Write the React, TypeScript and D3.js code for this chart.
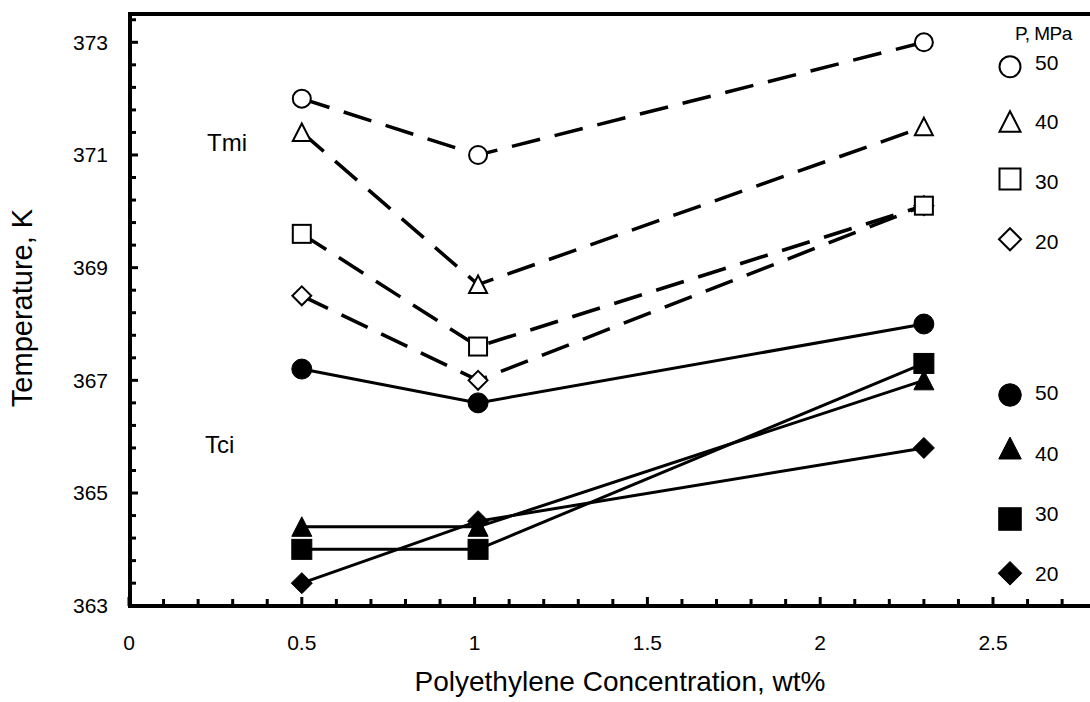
import React from "react";
import * as d3 from "d3";

// ---- data ----
const concentrations = [0.5, 1.01, 2.3];
const pressures = ["50", "40", "30", "20"];
const tmi50 = [372.0, 371.0, 373.0];
const tmi40 = [371.4, 368.7, 371.5];
const tmi30 = [369.6, 367.6, 370.1];
const tmi20 = [368.5, 367.0, 370.1];
const tci50 = [367.2, 366.6, 368.0];
const tci40 = [364.4, 364.4, 367.0];
const tci30 = [364.0, 364.0, 367.3];
const tci20 = [363.4, 364.5, 365.8];
const xTickLabels = ["0", "0.5", "1", "1.5", "2", "2.5"];
const yTickLabels = ["363", "365", "367", "369", "371", "373"];

type Shape = "circle" | "triangle" | "square" | "diamond";
const shapes: Shape[] = ["circle", "triangle", "square", "diamond"];

const FONT = "'Liberation Sans', Arial, Helvetica, sans-serif";

const x = d3.scaleLinear().domain([0, 2.5]).range([129, 993]);
const y = d3.scaleLinear().domain([363, 373]).range([605.7, 42.3]);

function Marker({ shape, cx, cy, s, filled }: { shape: Shape; cx: number; cy: number; s: number; filled: boolean }) {
  const fill = filled ? "#000" : "#fff";
  const sw = filled ? 1 : 2;
  const h = s / 2;
  if (shape === "circle") return <circle cx={cx} cy={cy} r={h} fill={fill} stroke="#000" strokeWidth={sw} />;
  if (shape === "square") return <rect x={cx - h} y={cy - h} width={s} height={s} fill={fill} stroke="#000" strokeWidth={sw} />;
  if (shape === "triangle")
    return (
      <path
        d={`M${cx},${cy - h}L${cx + h},${cy + h * 0.95}L${cx - h},${cy + h * 0.95}Z`}
        fill={fill}
        stroke="#000"
        strokeWidth={sw}
        strokeLinejoin="miter"
      />
    );
  const d = h * 1.05;
  return <path d={`M${cx},${cy - d}L${cx + d},${cy}L${cx},${cy + d}L${cx - d},${cy}Z`} fill={fill} stroke="#000" strokeWidth={sw} />;
}

export default function App() {
  const openSeries = [tmi50, tmi40, tmi30, tmi20];
  const filledSeries = [tci50, tci40, tci30, tci20];
  const line = d3
    .line<number>()
    .x((_, i) => x(concentrations[i]))
    .y((v) => y(v));

  const xMinor = d3.range(0, 28).map((i) => i / 10);
  const yMinor = d3.range(0, 27).map((i) => 363 + i * 0.4);
  const xAxisY = 606;
  const yAxisX = 130;

  const legendOpenY = [66.7, 121.7, 179, 239.3];
  const legendOpenTextY = [63, 121.7, 181.7, 242];
  const legendFilledY = [395, 448.3, 519, 573.3];
  const legendFilledTextY = [393, 453.7, 513.7, 573.3];

  const openOrder = [3, 2, 1, 0];

  return (
    <svg width={1090} height={702} style={{ position: "absolute", left: 0, top: 0, background: "#fff" }} fontFamily={FONT}>
      <rect width={1090} height={702} fill="#fff" />
      {/* frame top line */}
      <line x1={yAxisX - 2} x2={1090} y1={14} y2={14} stroke="#000" strokeWidth={4} />
      {/* y axis */}
      <line x1={yAxisX} x2={yAxisX} y1={12} y2={xAxisY + 2} stroke="#000" strokeWidth={4} />
      {yMinor.map((v, i) => (
        <line key={"ym" + i} x1={yAxisX} x2={yAxisX + (i % 5 === 0 ? 8 : 6)} y1={y(v)} y2={y(v)} stroke="#000" strokeWidth={3} />
      ))}
      {yTickLabels.map((t) => (
        <text key={"yl" + t} x={108} y={y(+t)} dy="0.35em" textAnchor="end" fontSize={21} fill="#000">
          {t}
        </text>
      ))}
      {/* x axis */}
      <line x1={yAxisX - 2} x2={1090} y1={xAxisY} y2={xAxisY} stroke="#000" strokeWidth={4} />
      {xMinor.map((v, i) => (
        <line key={"xm" + i} x1={x(v)} x2={x(v)} y1={xAxisY} y2={xAxisY - (i % 5 === 0 ? 9 : 7)} stroke="#000" strokeWidth={3} />
      ))}
      {xTickLabels.map((t) => (
        <text key={"xl" + t} x={x(+t)} y={650} textAnchor="middle" fontSize={21} fill="#000">
          {t}
        </text>
      ))}
      {/* axis titles */}
      <text x={620} y={691} textAnchor="middle" fontSize={28} fill="#000">
        Polyethylene Concentration, wt%
      </text>
      <text transform="translate(32,308) rotate(-90)" textAnchor="middle" fontSize={29} fill="#000">
        Temperature, K
      </text>
      {/* series labels */}
      <text x={207} y={151} fontSize={24} fill="#000">Tmi</text>
      <text x={205} y={452.7} fontSize={24} fill="#000">Tci</text>

      {/* open series (Tmi), dashed */}
      {openOrder.map((k) => {
        const s = openSeries[k];
        return (
          <g key={"o" + k}>
            <path d={line(s) || ""} fill="none" stroke="#000" strokeWidth={3.5} strokeDasharray="29,15" />
            {s.map((v, i) => (
              <Marker key={i} shape={shapes[k]} cx={x(concentrations[i])} cy={y(v)} s={18} filled={false} />
            ))}
          </g>
        );
      })}
      {/* filled series (Tci), solid */}
      {filledSeries.map((s, k) => (
        <g key={"f" + k}>
          <path d={line(s) || ""} fill="none" stroke="#000" strokeWidth={3} />
          {s.map((v, i) => (
            <Marker key={i} shape={shapes[k]} cx={x(concentrations[i])} cy={y(v)} s={20} filled={true} />
          ))}
        </g>
      ))}

      {/* legend */}
      <text x={1015} y={40} fontSize={19} fill="#000" letterSpacing={-0.5}>
        P, MPa
      </text>
      {pressures.map((p, k) => (
        <g key={"lo" + k}>
          <Marker shape={shapes[k]} cx={1010} cy={legendOpenY[k]} s={21} filled={false} />
          <text x={1035} y={legendOpenTextY[k]} dy="0.35em" fontSize={21} fill="#000">
            {p}
          </text>
        </g>
      ))}
      {pressures.map((p, k) => (
        <g key={"lf" + k}>
          <Marker shape={shapes[k]} cx={1010} cy={legendFilledY[k]} s={22.5} filled={true} />
          <text x={1035} y={legendFilledTextY[k]} dy="0.35em" fontSize={21} fill="#000">
            {p}
          </text>
        </g>
      ))}
    </svg>
  );
}
